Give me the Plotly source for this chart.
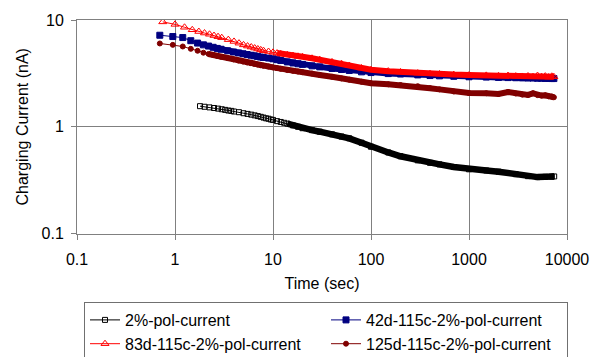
import plotly.graph_objects as go

# ---- data ----
t_2pct = [1.8, 2.0, 2.25, 2.5, 2.75, 3.0, 3.25, 3.5, 3.75, 4.0,
          4.5, 5.0, 5.5, 6.0, 6.5, 7.0, 7.5, 8.0, 8.5, 9.0,
          9.5, 10, 11, 12, 13, 14, 16, 18, 20, 25,
          30, 40, 50, 60, 80, 100, 150, 200, 300, 400,
          500, 700, 1000, 1500, 2000, 3000, 4000, 5000, 6000, 7000,
          7400]
i_2pct = [1.56, 1.54, 1.52, 1.50, 1.48, 1.46, 1.44, 1.42, 1.41, 1.39,
          1.37, 1.34, 1.32, 1.30, 1.28, 1.26, 1.24, 1.22, 1.20, 1.19,
          1.17, 1.16, 1.13, 1.11, 1.09, 1.07, 1.03, 1.0, 0.97, 0.93,
          0.90, 0.85, 0.81, 0.78, 0.71, 0.65, 0.575, 0.53, 0.485, 0.46,
          0.445, 0.42, 0.40, 0.39, 0.38, 0.36, 0.345, 0.338, 0.34, 0.342,
          0.343]

t_42d = [0.7, 0.95, 1.2, 1.45, 1.7, 1.95, 2.2, 2.45, 2.7, 2.95,
         3.45, 3.95, 4.45, 4.95, 5.45, 5.95, 6.45, 6.95, 7.45, 7.95,
         9, 10, 11, 12, 14, 16, 18, 20, 25, 30,
         40, 50, 60, 80, 100, 150, 200, 300, 400, 500,
         700, 1000, 1500, 2000, 2500, 3000, 3500, 4000, 4500, 5000,
         5500, 6000, 6500, 7000, 7350]
i_42d = [7.2, 7.0, 6.85, 6.4, 6.08, 5.85, 5.7, 5.55, 5.42, 5.32,
         5.15, 5.02, 4.92, 4.83, 4.75, 4.68, 4.62, 4.56, 4.50, 4.46,
         4.40, 4.33, 4.25, 4.18, 4.05, 3.96, 3.89, 3.84, 3.72, 3.64,
         3.52, 3.44, 3.37, 3.27, 3.22, 3.15, 3.12, 3.06, 3.02, 3.0,
         2.97, 2.94, 2.92, 2.90, 2.89, 2.88, 2.87, 2.86, 2.86, 2.85,
         2.85, 2.84, 2.84, 2.83, 2.83]

t_83d = [0.75, 1.0, 1.25, 1.5, 1.75, 2.0, 2.25, 2.5, 2.75, 3.0,
         3.5, 4.0, 4.5, 5.0, 5.5, 6.0, 6.5, 7.0, 7.5, 8.0,
         9, 10, 11, 12, 14, 16, 18, 20, 25, 30,
         40, 50, 60, 80, 100, 150, 200, 300, 400, 500,
         700, 1000, 1500, 2000, 2500, 3000, 3500, 4000, 4500, 5000,
         5500, 6000, 6500, 7000, 7350]
i_83d = [9.6, 9.1, 8.55, 8.1, 7.8, 7.55, 7.35, 7.15, 6.98, 6.83,
         6.55, 6.3, 6.07, 5.85, 5.7, 5.58, 5.46, 5.35, 5.25, 5.16,
         5.07, 4.98, 4.9, 4.82, 4.72, 4.64, 4.57, 4.52, 4.38, 4.25,
         4.05, 3.9, 3.75, 3.55, 3.42, 3.32, 3.26, 3.18, 3.14, 3.12,
         3.08, 3.05, 3.03, 3.0, 3.02, 2.98, 2.96, 2.99, 2.94, 3.02,
         2.95, 2.98, 2.92, 2.97, 2.94]

t_125d = list(t_42d)
i_125d = [6.03, 5.85, 5.65, 5.37, 5.15, 4.94, 4.81, 4.70, 4.60, 4.52,
          4.40, 4.28, 4.17, 4.08, 4.00, 3.94, 3.88, 3.82, 3.77, 3.73,
          3.67, 3.60, 3.54, 3.49, 3.40, 3.34, 3.29, 3.25, 3.15, 3.06,
          2.94, 2.84, 2.76, 2.64, 2.56, 2.50, 2.46, 2.40, 2.30, 2.24,
          2.14, 2.07, 2.06, 2.03, 2.12, 2.05, 2.00, 1.99, 2.06, 1.98,
          1.96, 1.97, 1.93, 1.92, 1.89]

x_ticks = [0.1, 1, 10, 100, 1000, 10000]
x_ticktext = ["0.1", "1", "10", "100", "1000", "10000"]
y_ticks = [0.1, 1, 10]
y_ticktext = ["0.1", "1", "10"]

names = ["2%-pol-current", "42d-115c-2%-pol-current",
         "83d-115c-2%-pol-current", "125d-115c-2%-pol-current"]

# ---- styling ----
series = [
    dict(t=t_2pct, i=i_2pct, name=names[0], color="#000000",
         symbol="square-open", size=5, band_from=25, band_w=6.5),
    dict(t=t_42d, i=i_42d, name=names[1], color="#000080",
         symbol="square", size=6, band_from=7, band_w=6),
    dict(t=t_83d, i=i_83d, name=names[2], color="#FF0000",
         symbol="triangle-up-open", size=7, band_from=22, band_w=6),
    dict(t=t_125d, i=i_125d, name=names[3], color="#800000",
         symbol="circle", size=5, band_from=6, band_w=6),
]

FONT = "Liberation Sans, Arial, sans-serif"
FS = 16
fig = go.Figure()
for s in series:
    k = s["band_from"]
    fig.add_trace(go.Scatter(
        x=s["t"][k:], y=s["i"][k:], mode="lines",
        line=dict(color=s["color"], width=s["band_w"]),
        showlegend=False, hoverinfo="skip"))
    fig.add_trace(go.Scatter(
        x=s["t"], y=s["i"], mode="lines+markers", name=s["name"],
        line=dict(color=s["color"], width=1),
        marker=dict(symbol=s["symbol"], size=s["size"], color=s["color"],
                    line=dict(color=s["color"], width=1))))

axis_common = dict(
    type="log", showgrid=True, gridcolor="#808080", gridwidth=1,
    showline=True, linecolor="#808080", linewidth=1, mirror=True,
    ticks="outside", ticklen=5, tickcolor="#808080", tickwidth=1,
    zeroline=False, tickfont=dict(family=FONT, size=FS, color="#000000"),
)

fig.update_layout(
    width=601, height=357,
    margin=dict(l=77, r=32, t=15, b=123),
    paper_bgcolor="white", plot_bgcolor="white",
    font=dict(family=FONT, size=FS, color="#000000"),
    xaxis=dict(axis_common, range=[-1, 4], tickmode="array",
               tickvals=x_ticks, ticktext=x_ticktext, ticklabelstandoff=6,
               title=dict(text="Time (sec)", font=dict(family=FONT, size=FS),
                          standoff=11)),
    yaxis=dict(axis_common, range=[-1, 1], tickmode="array",
               tickvals=y_ticks, ticktext=y_ticktext, ticklabelstandoff=4,
               title=dict(text="Charging Current (nA)",
                          font=dict(family=FONT, size=FS), standoff=8)),
    legend=dict(orientation="h", xref="container", yref="container",
                x=84 / 601, y=1 - 302 / 357, xanchor="left", yanchor="top",
                bordercolor="#707070", borderwidth=1, bgcolor="white",
                entrywidth=196, entrywidthmode="pixels", itemwidth=30,
                font=dict(family=FONT, size=FS, color="#000000")),
    showlegend=True,
)

fig.write_html("out.html")
